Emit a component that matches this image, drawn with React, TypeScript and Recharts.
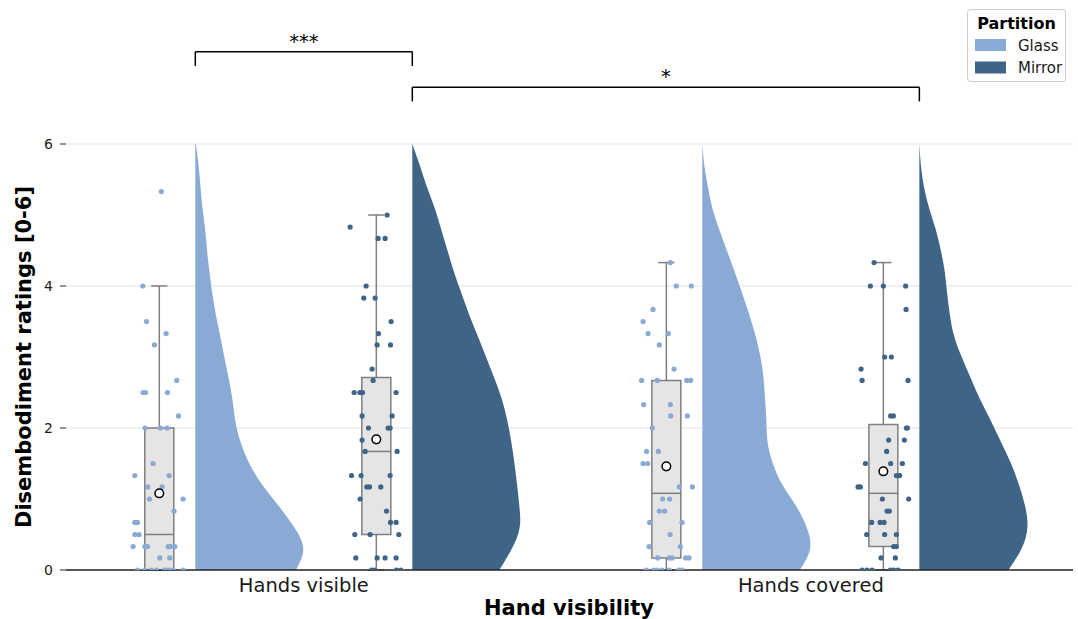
import React from "react";
import {
  ComposedChart,
  Area,
  Scatter,
  XAxis,
  YAxis,
  CartesianGrid,
  ReferenceArea,
  ReferenceLine,
} from "recharts";

const CATEGORIES = ["Hands visible", "Hands covered"];
const PARTITIONS = ["Glass", "Mirror"];
const COLORS: Record<string, string> = { Glass: "#89aad4", Mirror: "#3e6488" };

// groups in draw order: [category index, partition]
const GROUPS = [
  { key: "gv", cat: 0, part: "Glass" },
  { key: "mv", cat: 0, part: "Mirror" },
  { key: "gc", cat: 1, part: "Glass" },
  { key: "mc", cat: 1, part: "Mirror" },
];

// half-violin density profiles (normalised to max 1), sampled at KDE_Y
const KDE_Y = [6, 5.7, 5.4, 5.1, 4.8, 4.5, 4.2, 3.9, 3.6, 3.3, 3.0, 2.7, 2.4, 2.1, 1.8, 1.5, 1.2, 0.9, 0.6, 0.3, 0];
const DENSITY_GV = [0.006, 0.03, 0.048, 0.066, 0.091, 0.109, 0.131, 0.157, 0.19, 0.23, 0.269, 0.309, 0.344, 0.37, 0.42, 0.5, 0.62, 0.773, 0.917, 1.0, 0.932];
const DENSITY_MV = [0, 0.069, 0.134, 0.207, 0.267, 0.326, 0.385, 0.454, 0.526, 0.605, 0.683, 0.76, 0.83, 0.88, 0.917, 0.946, 0.97, 0.991, 0.994, 0.921, 0.806];
const DENSITY_GC = [0, 0.018, 0.051, 0.092, 0.156, 0.227, 0.299, 0.368, 0.434, 0.493, 0.538, 0.567, 0.581, 0.593, 0.604, 0.653, 0.741, 0.868, 0.966, 0.998, 0.902];
const DENSITY_MC = [0, 0.014, 0.042, 0.09, 0.151, 0.199, 0.235, 0.257, 0.282, 0.321, 0.392, 0.476, 0.563, 0.663, 0.757, 0.849, 0.922, 0.979, 1.0, 0.946, 0.825];
const DENSITY: Record<string, number[]> = { gv: DENSITY_GV, mv: DENSITY_MV, gc: DENSITY_GC, mc: DENSITY_MC };

// individual ratings: [rating, horizontal jitter]
const POINTS_GV = [
  [5.33, 2], [4, -16.5], [3.5, -12.8], [3.33, 6.8], [3.17, -4.8], [2.67, 17.5], [2.5, -16.2], [2.5, -13.8], [2.5, 8.2],
  [2.17, 19.2], [2, -14.2], [2, 1.2], [2, 7.8], [1.5, -6.2], [1.33, -24.5], [1.33, 9.8], [1.17, -11.5], [1.17, 2.8],
  [1, -9.8], [1, 23.8], [0.83, 14.8], [0.67, -24.5], [0.67, -21.8], [0.5, -24.5], [0.5, -20.2], [0.33, -26.2],
  [0.33, -14.5], [0.33, -11.8], [0.33, 8.8], [0.33, 11.2], [0.33, 15.5], [0.17, 0.5], [0.17, 10.5], [0, -21.8],
  [0, -14.5], [0, -7.8], [0, -2.8], [0, 4.8], [0, 7.2], [0, 10.5], [0, 13.8], [0, 23.8],
];
const POINTS_MV = [
  [5, 10.8], [4.83, -26.2], [4.67, 1.8], [4.67, 8.8], [4, -10.2], [3.83, -12.5], [3.83, -1.2], [3.5, 14.8], [3.33, 2.2],
  [3.17, 0.8], [3.17, 14.2], [2.83, -4.2], [2.67, -3.2], [2.5, -22.2], [2.5, -16.5], [2.5, -13.8], [2.5, 19.8],
  [2.17, -14.2], [2.17, 15.8], [2, -7.8], [2, 11.8], [2, 13.8], [1.83, -14.2], [1.67, -11.2], [1.67, 20.8],
  [1.33, -24.8], [1.33, -15.2], [1.33, 13.8], [1.17, -9.5], [1.17, -6.8], [1.17, 4.5], [1, -16.2], [0.83, 10.2],
  [0.67, 14.2], [0.67, 19.8], [0.5, -21.5], [0.5, -6.2], [0.5, 22.5], [0.17, -20.5], [0.17, 0.8], [0.17, 8.8],
  [0.17, 19.8], [0, -4.8], [0, -1.5], [0, 20.2], [0, 24.5],
];
const POINTS_GC = [
  [4.33, 4], [4, 10], [4, 25], [3.67, -13.3], [3.5, -23.3], [3.33, -18.3], [3.33, 2], [3.17, -7], [2.83, 7.7],
  [2.67, -24.7], [2.67, -9], [2.67, 20.3], [2.67, 24.3], [2.33, -22.7], [2.33, 4], [2.17, 4.3], [2.17, 21], [2, -14],
  [1.67, -19.7], [1.67, -8], [1.5, -23.3], [1.5, -18.7], [1.17, 13], [1.17, 26], [1, -3.7], [1, 3.3], [0.83, -7],
  [0.83, -1.7], [0.67, -16.7], [0.67, 15.7], [0.5, 3.7], [0.33, -17.3], [0.33, 14], [0.17, -8.7], [0.17, 3],
  [0.17, 5.7], [0.17, 19.3], [0.17, 22.7], [0, -20], [0, -12.7], [0, -9.3], [0, -4.3], [0, 3], [0, 12.3], [0, 15.7],
];
const POINTS_MC = [
  [4.33, -9.3], [4, -13], [4, 0], [4, 22.3], [3.67, 22.7], [3, 1.3], [3, 8], [2.83, -22.3], [2.67, -21.3],
  [2.67, 24.7], [2.17, 7.3], [2.17, 10], [2, 23], [2, 24], [1.83, 5.3], [1.83, 21], [1.67, 3.3], [1.5, -18],
  [1.5, 7.3], [1.5, 19], [1.33, 13], [1.33, 16.3], [1.17, -25.3], [1.17, -23], [1, -1], [1, 25.3], [0.83, 3.7],
  [0.83, 6], [0.67, -11.7], [0.67, -3.3], [0.67, 0.7], [0.5, -16.7], [0.5, 1.3], [0.5, 13], [0.33, 10.3], [0.33, 13],
  [0.17, -2.3], [0.17, 12], [0, -21.3], [0, -16.3], [0, -11.3], [0, 7], [0, 10.3], [0, 14.7],
];
const POINTS: Record<string, number[][]> = { gv: POINTS_GV, mv: POINTS_MV, gc: POINTS_GC, mc: POINTS_MC };

// box plot statistics, same order as GROUPS
const Q1 = [0, 0.5, 0.17, 0.33];
const MEDIAN = [0.5, 1.67, 1.08, 1.08];
const Q3 = [2.0, 2.71, 2.67, 2.05];
const WHISKER_LO = [0, 0, 0, 0];
const WHISKER_HI = [4.0, 5.0, 4.33, 4.33];
const MEAN = [1.08, 1.84, 1.46, 1.39];

// significance annotations
const SIG_FROM = ["gv", "mv"];
const SIG_TO = ["mv", "mc"];
const SIG_LABEL = ["***", "*"];
const SIG_LEVEL = [7.3, 6.8];

const Y_TICKS = [0, 2, 4, 6];

// layout (x-axis units, one unit = distance between categories)
const CAT_X = [0, 1];
const BOX_OFFSET: Record<string, number> = { Glass: -0.285, Mirror: 0.143 };
const VIOLIN_BASE: Record<string, number> = { Glass: -0.214, Mirror: 0.214 };
const VIOLIN_WIDTH = 0.213;
const BOX_HALF = 0.0286;
const CAP_HALF = 0.016;
const JITTER_UNIT = 1 / 507;
const BRACKET_DROP = 0.2;

const FONT = "'DejaVu Sans', sans-serif";
const BOX_STROKE = "#7f7f7f";

const boxX = (g: { cat: number; part: string }) => CAT_X[g.cat] + BOX_OFFSET[g.part];
const violinX = (g: { cat: number; part: string }) => CAT_X[g.cat] + VIOLIN_BASE[g.part];
const groupByKey = (k: string) => GROUPS.find((g) => g.key === k)!;

const violinData = KDE_Y.map((y, i) => {
  const row: Record<string, number> = { y };
  GROUPS.forEach((g) => {
    row[g.key] = violinX(g) + DENSITY[g.key][i] * VIOLIN_WIDTH;
  });
  return row;
});

const pointData = GROUPS.map((g) =>
  POINTS[g.key].map(([v, j]) => ({ x: boxX(g) + j * JITTER_UNIT, y: v }))
);
const meanData = GROUPS.map((g, i) => ({ x: boxX(g), y: MEAN[i] }));

export default function App() {
  return (
    <div style={{ position: "absolute", left: 0, top: 0, width: 1078, height: 619, background: "#fff", fontFamily: FONT }}>
      <ComposedChart
        width={1078}
        height={619}
        layout="vertical"
        data={violinData}
        margin={{ top: 144, right: 5, bottom: 0, left: 26 }}
      >
        <CartesianGrid horizontal vertical={false} stroke="#ebebeb" strokeWidth={1.5} />
        <XAxis
          type="number"
          dataKey="x"
          domain={[-0.469, 1.517]}
          allowDataOverflow
          ticks={CAT_X}
          interval={0}
          tickFormatter={(v: number) => CATEGORIES[v] ?? ""}
          tickLine={false}
          tickMargin={2}
          height={49}
          axisLine={{ stroke: "#262626", strokeWidth: 1.3 }}
          tick={{ fontSize: 19.5, fill: "#1a1a1a", fontFamily: FONT }}
        />
        <YAxis
          type="number"
          dataKey="y"
          domain={[0, 6]}
          reversed
          allowDataOverflow
          ticks={Y_TICKS}
          interval={0}
          width={40}
          axisLine={false}
          tickLine={{ stroke: "#262626" }}
          tickSize={6}
          tickMargin={7}
          tick={{ fontSize: 14, fill: "#1a1a1a", fontFamily: FONT }}
        />
        {GROUPS.map((g) => (
          <Area
            key={`violin-${g.key}`}
            dataKey={g.key}
            type="natural"
            baseValue={violinX(g)}
            fill={COLORS[g.part]}
            fillOpacity={1}
            stroke="none"
            dot={false}
            activeDot={false}
            isAnimationActive={false}
          />
        ))}
        {GROUPS.map((g, i) => (
          <ReferenceArea
            key={`box-${g.key}`}
            x1={boxX(g) - BOX_HALF}
            x2={boxX(g) + BOX_HALF}
            y1={Q1[i]}
            y2={Q3[i]}
            fill="#e5e5e5"
            fillOpacity={1}
            stroke={BOX_STROKE}
            strokeWidth={1.5}
            ifOverflow="visible"
          />
        ))}
        {GROUPS.map((g, i) => {
          const x = boxX(g);
          const segs = [
            [{ x: x - BOX_HALF, y: MEDIAN[i] }, { x: x + BOX_HALF, y: MEDIAN[i] }],
            [{ x, y: Q3[i] }, { x, y: WHISKER_HI[i] }],
            [{ x, y: Q1[i] }, { x, y: WHISKER_LO[i] }],
            [{ x: x - CAP_HALF, y: WHISKER_HI[i] }, { x: x + CAP_HALF, y: WHISKER_HI[i] }],
            [{ x: x - CAP_HALF, y: WHISKER_LO[i] }, { x: x + CAP_HALF, y: WHISKER_LO[i] }],
          ];
          return segs.map((s, k) => (
            <ReferenceLine
              key={`seg-${g.key}-${k}`}
              segment={s}
              stroke={BOX_STROKE}
              strokeWidth={1.5}
              ifOverflow="visible"
            />
          ));
        })}
        {GROUPS.map((g, i) => (
          <Scatter
            key={`pts-${g.key}`}
            data={pointData[i]}
            isAnimationActive={false}
            shape={(p: any) => <circle cx={p.cx} cy={p.cy} r={2.6} fill={COLORS[g.part]} />}
          />
        ))}
        <Scatter
          data={meanData}
          isAnimationActive={false}
          shape={(p: any) => <circle cx={p.cx} cy={p.cy} r={4.3} fill="#fff" stroke="#000" strokeWidth={1.5} />}
        />
        {SIG_LABEL.map((lab, i) => {
          const x1 = violinX(groupByKey(SIG_FROM[i]));
          const x2 = violinX(groupByKey(SIG_TO[i]));
          const y = SIG_LEVEL[i];
          return [
            <ReferenceLine
              key={`sig-h-${i}`}
              segment={[{ x: x1, y }, { x: x2, y }]}
              stroke="#000"
              strokeWidth={1.5}
              ifOverflow="visible"
              label={{ value: lab, position: "top", offset: 4, fontSize: 19.5, fill: "#000", fontFamily: FONT }}
            />,
            <ReferenceLine
              key={`sig-l-${i}`}
              segment={[{ x: x1, y }, { x: x1, y: y - BRACKET_DROP }]}
              stroke="#000"
              strokeWidth={1.5}
              ifOverflow="visible"
            />,
            <ReferenceLine
              key={`sig-r-${i}`}
              segment={[{ x: x2, y }, { x: x2, y: y - BRACKET_DROP }]}
              stroke="#000"
              strokeWidth={1.5}
              ifOverflow="visible"
            />,
          ];
        })}
      </ComposedChart>
      <svg
        width={1078}
        height={619}
        style={{ position: "absolute", left: 0, top: 0, pointerEvents: "none" }}
        fontFamily={FONT}
      >
        <text
          x={0}
          y={0}
          transform="translate(31,357) rotate(-90)"
          textAnchor="middle"
          fontSize={21}
          fontWeight="bold"
          fill="#000"
        >
          Disembodiment ratings [0-6]
        </text>
        <text x={569} y={615} textAnchor="middle" fontSize={21} fontWeight="bold" fill="#000">
          Hand visibility
        </text>
        <rect x={967.5} y={9.5} width={98} height={72} rx={3} fill="#fff" stroke="#cccccc" strokeWidth={1} />
        <text x={1016.5} y={28.5} textAnchor="middle" fontSize={16} fontWeight="bold" fill="#000">
          Partition
        </text>
        {PARTITIONS.map((p, i) => (
          <g key={p}>
            <rect x={975} y={39 + i * 22.5} width={31} height={12} fill={COLORS[p]} />
            <text x={1018} y={50.5 + i * 22.5} fontSize={15} fill="#1a1a1a">
              {p}
            </text>
          </g>
        ))}
      </svg>
    </div>
  );
}
